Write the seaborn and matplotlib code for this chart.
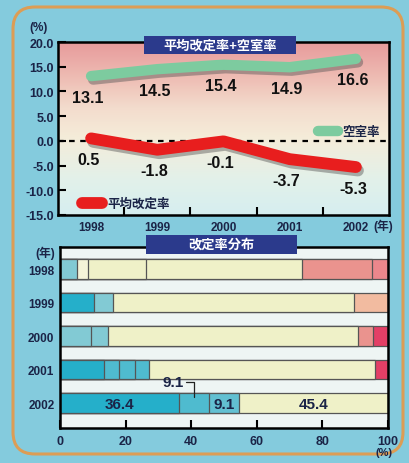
import numpy as np
import pandas as pd
import matplotlib
matplotlib.use("Agg")
import matplotlib.pyplot as plt
import matplotlib.patheffects as pe
from matplotlib.colors import LinearSegmentedColormap
from matplotlib.patches import Rectangle, FancyBboxPatch
from matplotlib.lines import Line2D
from matplotlib.transforms import IdentityTransform
import seaborn as sns

sns.set_theme(style="white")
plt.rcParams["font.family"] = ["Liberation Sans", "Noto Sans CJK JP", "DejaVu Sans"]

# ---- data -------------------------------------------------------------
years = [1998, 1999, 2000, 2001, 2002]
vacancy_rate = [13.1, 14.5, 15.4, 14.9, 16.6]      # 空室率
avg_revision = [0.5, -1.8, -0.1, -3.7, -5.3]        # 平均改定率

dist_years = ["1998", "1999", "2000", "2001", "2002"]
dist_1998 = [5.1, 3.4, 17.7, 47.7, 21.3, 4.8]
dist_1999 = [10.5, 5.6, 73.6, 10.3]
dist_2000 = [9.4, 5.1, 76.3, 4.7, 4.5]
dist_2001 = [13.5, 4.6, 4.8, 4.2, 68.9, 4.0]
dist_2002 = [36.4, 9.1, 9.1, 45.4]
dist_labels_2002 = ["36.4", "9.1", "9.1", "45.4"]

# ---- styling ----------------------------------------------------------
BG = "#84cbdd"
NAVY = "#1b2447"
palette = {
    "teal_dk": "#25afca", "teal_md": "#4fbbcf", "teal_lt": "#82cad4",
    "teal_lt2": "#62c0d2", "cream": "#eff1c8", "cream2": "#f4f3d8",
    "salmon": "#ea938e", "salmon2": "#eb878c", "peach": "#f2bba0", "red": "#e33f66",
}
seg_colors = {
    "1998": ["teal_lt", "cream2", "cream", "cream", "salmon", "salmon2"],
    "1999": ["teal_dk", "teal_lt", "cream", "peach"],
    "2000": ["teal_lt", "teal_lt", "cream", "salmon", "red"],
    "2001": ["teal_dk", "teal_md", "teal_md", "teal_md", "cream", "red"],
    "2002": ["teal_dk", "teal_md", "teal_lt2", "cream"],
}

W, H = 409, 464
fig = plt.figure(figsize=(W / 100, H / 100), dpi=100, facecolor=BG)

# rounded frame around both panels
frame = FancyBboxPatch((13, H - 455), 390, 447, boxstyle="round,pad=0,rounding_size=22",
                       transform=IdentityTransform(), facecolor=BG,
                       edgecolor="#dc9d55", linewidth=2.2, zorder=-5)
fig.patches.append(frame)

def fx(px):
    return px / W

def fy(py):
    return 1 - py / H

# ======================= top panel: line chart ==========================
ax1 = fig.add_axes([fx(58), fy(216), fx(389) - fx(58), fy(43) - fy(216)])
grad = LinearSegmentedColormap.from_list(
    "bg", [(0.0, "#d6eef0"), (0.2, "#e2f1ea"), (0.45, "#f5ecd9"),
           (0.62, "#f3dccd"), (0.8, "#eebcb3"), (1.0, "#e79a9b")])
ax1.imshow(np.linspace(0, 1, 256).reshape(-1, 1), cmap=grad, origin="lower",
           extent=(1997.5, 2002.5, -15, 20), aspect="auto", zorder=0)

ax1.axhline(0, color="black", lw=1.6, ls=(0, (2.5, 2.5)), zorder=1)

line_df = pd.DataFrame({"year": years, "空室率": vacancy_rate, "平均改定率": avg_revision})
shadow = [pe.SimpleLineShadow(offset=(1.5, -2.5), shadow_color="#555555", alpha=0.45), pe.Normal()]
sns.lineplot(data=line_df, x="year", y="空室率", color="#7dcb9f", lw=7.5, ax=ax1,
             solid_capstyle="round", path_effects=shadow, zorder=3)
sns.lineplot(data=line_df, x="year", y="平均改定率", color="#e81e1e", lw=8.5, ax=ax1,
             solid_capstyle="round", path_effects=shadow, zorder=3)

for x, v in zip(years, vacancy_rate):
    ax1.annotate(f"{v:.1f}", (x, v), xytext=(-3, -21), textcoords="offset pixels",
                 ha="center", va="center", fontsize=11.5, fontweight="bold", color="#111111", zorder=4)
for x, v in zip(years, avg_revision):
    ax1.annotate(f"{v:.1f}", (x, v), xytext=(-3, -21), textcoords="offset pixels",
                 ha="center", va="center", fontsize=11.5, fontweight="bold", color="#111111", zorder=4)

ax1.set_xlim(1997.5, 2002.5)
ax1.set_ylim(-15, 20)
ax1.set_yticks(np.arange(-15, 21, 5))
ax1.set_yticklabels([f"{v:.1f}" for v in np.arange(-15, 21, 5)])
ax1.set_xticks(years)
ax1.set_xticklabels([str(y) for y in years])
ax1.set_xticks([1998.5, 1999.5, 2000.5, 2001.5], minor=True)
ax1.tick_params(axis="x", which="major", length=0, pad=4, labelsize=8.5, labelcolor=NAVY)
ax1.tick_params(axis="x", which="minor", direction="in", length=6, width=1.5, color="black", bottom=True)
ax1.tick_params(axis="y", direction="in", length=6, width=1.5, color="black", left=True,
                pad=3, labelsize=9, labelcolor=NAVY)
for lab in ax1.get_yticklabels() + ax1.get_xticklabels():
    lab.set_fontweight("bold")
ax1.set_xlabel("")
ax1.set_ylabel("")
for s in ax1.spines.values():
    s.set_linewidth(1.8)
    s.set_color("black")

fig.text(fx(29), fy(28), "(%)", ha="left", va="center", fontsize=8.5, fontweight="bold", color=NAVY)
fig.text(fx(373), fy(226), "(年)", ha="left", va="center", fontsize=8.5, fontweight="bold", color=NAVY)

leg1 = ax1.legend(handles=[Line2D([], [], color="#7dcb9f", lw=7.5, solid_capstyle="round")],
                  labels=["空室率"], loc="center left", bbox_to_anchor=(0.75, 0.48),
                  frameon=False, handlelength=1.6, handletextpad=0.4, prop={"size": 9, "weight": "bold"})
for t in leg1.get_texts():
    t.set_color(NAVY)
ax1.add_artist(leg1)
leg2 = ax1.legend(handles=[Line2D([], [], color="#e81e1e", lw=8.5, solid_capstyle="round")],
                  labels=["平均改定率"], loc="center left", bbox_to_anchor=(0.04, 0.065),
                  frameon=False, handlelength=1.6, handletextpad=0.4, prop={"size": 9, "weight": "bold"})
for t in leg2.get_texts():
    t.set_color(NAVY)

# title tab
fig.patches.append(Rectangle((fx(144), fy(55)), fx(296) - fx(144), fy(37) - fy(55),
                             transform=fig.transFigure, facecolor="#2b3a8c", edgecolor="none", zorder=5))
fig.text(fx(220), fy(46), "平均改定率+空室率", ha="center", va="center", fontsize=9.5,
         color="white", fontweight="bold", zorder=6)

# ======================= bottom panel: stacked bars =====================
ax2 = fig.add_axes([fx(60), fy(429), fx(388) - fx(60), fy(248) - fy(429)])
ax2.set_facecolor("#eef5f4")

dists = dict(zip(dist_years, [dist_1998, dist_1999, dist_2000, dist_2001, dist_2002]))
rows = []
for yr in dist_years:
    vals = dists[yr]
    cum = np.cumsum(vals)
    for k, (v, c) in enumerate(zip(vals, cum)):
        rows.append({"year": yr, "seg": k, "width": v, "end": c, "color": seg_colors[yr][k]})
bars = pd.DataFrame(rows)

# stacked bars drawn as cumulative totals, longest first
for k in sorted(bars["seg"].unique(), reverse=True):
    sub = bars[bars["seg"] == k]
    sns.barplot(data=sub, x="end", y="year", hue="color", palette=palette, order=dist_years,
                orient="h", dodge=False, width=0.58, errorbar=None, legend=False, saturation=1,
                edgecolor="#555555", linewidth=0.9, ax=ax2, zorder=2)

row2002 = bars[bars["year"] == "2002"].reset_index(drop=True)
y2002 = dist_years.index("2002")
for i, (lab, r) in enumerate(zip(dist_labels_2002, row2002.itertuples())):
    if i == 1:
        continue
    ax2.text(r.end - r.width / 2, y2002 + 0.02, lab, ha="center", va="center",
             fontsize=11, fontweight="bold", color=NAVY, zorder=4)
# the narrow 9.1 segment gets its label above with a leader
r1 = row2002.iloc[1]
xm = r1.end - r1.width / 2
ax2.plot([xm - 2.6, xm, xm], [y2002 - 0.62, y2002 - 0.62, y2002 - 0.18],
         color="#222222", lw=0.9, zorder=4)
ax2.text(xm - 3.3, y2002 - 0.62, dist_labels_2002[1], ha="right", va="center",
         fontsize=11, fontweight="bold", color=NAVY, zorder=4)

ax2.set_xlim(0, 100)
ax2.set_ylim(4.74, -0.66)
ax2.set_xticks([0, 20, 40, 60, 80, 100])
ax2.set_xticklabels(["0", "20", "40", "60", "80", "100"])
ax2.tick_params(axis="x", direction="in", length=6, width=1.5, color="black", bottom=True,
                pad=5, labelsize=9, labelcolor=NAVY)
ax2.tick_params(axis="y", length=0, pad=4, labelsize=8.5, labelcolor=NAVY)
for lab in ax2.get_yticklabels() + ax2.get_xticklabels():
    lab.set_fontweight("bold")
ax2.set_xlabel("")
ax2.set_ylabel("")
for s in ax2.spines.values():
    s.set_linewidth(1.8)
    s.set_color("black")

fig.text(fx(35), fy(253), "(年)", ha="left", va="center", fontsize=8.5, fontweight="bold", color=NAVY)
fig.text(fx(384), fy(453), "(%)", ha="center", va="center", fontsize=8, fontweight="bold", color=NAVY)

fig.patches.append(Rectangle((fx(146), fy(255)), fx(297) - fx(146), fy(236) - fy(255),
                             transform=fig.transFigure, facecolor="#2b3a8c", edgecolor="none", zorder=5))
fig.text(fx(221), fy(245.5), "改定率分布", ha="center", va="center", fontsize=9.5,
         color="white", fontweight="bold", zorder=6)

fig.savefig("out.png", dpi=100, facecolor=BG)
